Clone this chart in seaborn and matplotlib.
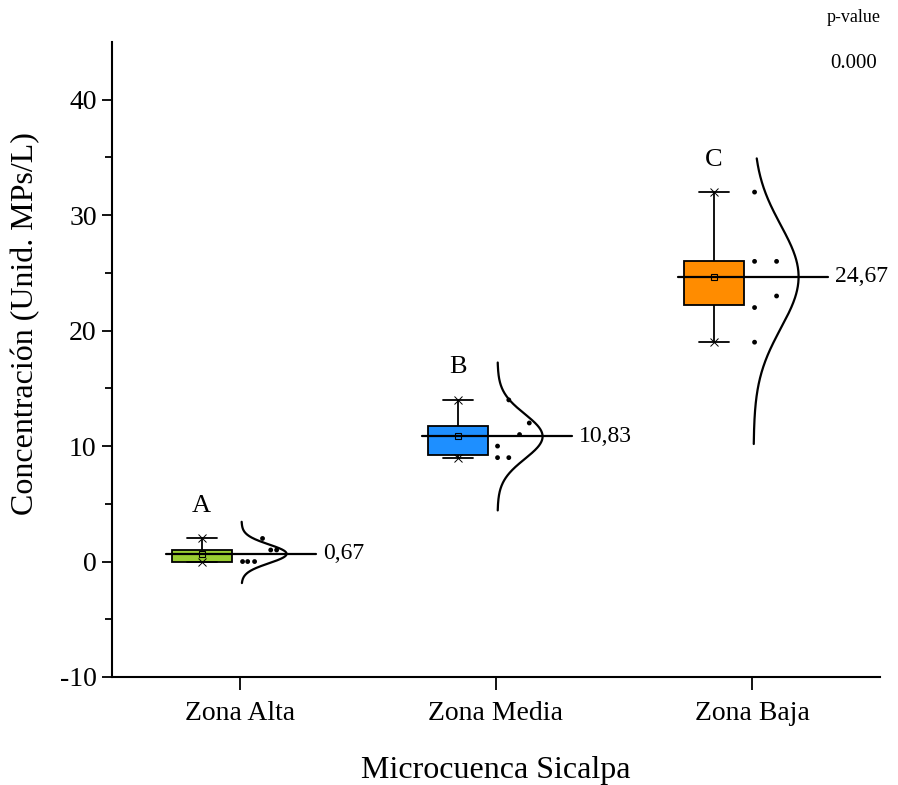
import numpy as np
import pandas as pd
import seaborn as sns
import matplotlib.pyplot as plt
from matplotlib.ticker import FixedLocator

# Concentración de microplásticos (Unid. MPs/L) por zona
zonas = ['Zona Alta', 'Zona Media', 'Zona Baja']
zona_alta = [0, 0, 0, 1, 1, 2]
zona_media = [14, 12, 11, 10, 9, 9]
zona_baja = [32, 26, 26, 23, 22, 19]
letras = ['A', 'B', 'C']
p_value = '0.000'
colores = ['#9acd32', '#1e8fff', '#ff8c00']

# desplazamiento de los puntos a la derecha de cada caja
jitter = [
    [0.16, 0.18, 0.207, 0.27, 0.293, 0.238],
    [0.2, 0.28, 0.242, 0.156, 0.156, 0.2],
    [0.16, 0.16, 0.246, 0.246, 0.16, 0.16],
]
# extension de la curva normal (desv. estandar abajo, arriba)
curva_sd = [(3.1, 3.4), (3.3, 3.3), (3.25, 2.3)]

valores = [zona_alta, zona_media, zona_baja]
desp = -0.15  # la caja queda a la izquierda del tick

df = pd.DataFrame({
    'zona': np.repeat(zonas, [len(v) for v in valores]),
    'conc': np.concatenate(valores).astype(float),
})
df['pos'] = df['zona'].map({z: i + desp for i, z in enumerate(zonas)})
df['xp'] = df['pos'] + np.concatenate(jitter)

sns.set_style('ticks')
plt.rcParams['font.family'] = ['Liberation Serif', 'DejaVu Serif']
plt.rcParams['axes.unicode_minus'] = False
for k in ['text.color', 'axes.labelcolor', 'xtick.color', 'ytick.color']:
    plt.rcParams[k] = 'black'

fig = plt.figure(figsize=(8.98, 7.85), dpi=100)
ax = fig.add_axes([112 / 898, 1 - 677 / 785, 768 / 898, 635 / 785])

sns.boxplot(data=df, x='pos', y='conc', hue='zona', palette=colores,
            native_scale=True, width=0.234, whis=(0, 100), dodge=False,
            saturation=1, linecolor='black', linewidth=1.3, legend=False,
            showfliers=False, medianprops={'visible': False}, ax=ax)

sns.scatterplot(data=df, x='xp', y='conc', color='black', s=12,
                edgecolor='none', legend=False, ax=ax, zorder=4)

for i, v in enumerate(valores):
    pos = i + desp
    m = np.mean(v)
    s = np.std(v, ddof=1)
    # curva normal
    lo, hi = curva_sd[i]
    yy = np.linspace(m - lo * s, m + hi * s, 300)
    xx = pos + 0.156 + 0.176 * np.exp(-0.5 * ((yy - m) / s) ** 2)
    ax.plot(xx, yy, color='black', lw=1.6, zorder=4)
    # linea de la media
    ax.plot([pos - 0.14, pos + 0.445], [m, m], color='black', lw=1.6, zorder=5)
    ax.text(pos + 0.475, m, f'{m:.2f}'.replace('.', ','), va='center',
            ha='left', fontsize=17)
    # media, minimo y maximo
    ax.plot(pos, m, marker='s', ms=5, mfc='none', mec='black', mew=0.8, zorder=6)
    ax.plot([pos, pos], [min(v), max(v)], ls='none', marker='x', ms=6,
            color='black', mew=0.7, zorder=6)
    ax.text(pos, max(v) + 2.3, letras[i], ha='center', va='baseline', fontsize=19)

ax.set_xlim(-0.5, 2.5)
ax.set_ylim(-10, 45)
ax.set_xticks([0, 1, 2])
ax.set_xticklabels(zonas)
ax.set_yticks(range(-10, 41, 10))
ax.yaxis.set_minor_locator(FixedLocator([-5, 5, 15, 25, 35]))
ax.tick_params(axis='both', which='major', labelsize=20, direction='out',
               width=1.3, color='black')
ax.tick_params(axis='y', which='major', length=7, pad=4)
ax.tick_params(axis='y', which='minor', length=5, width=1.3, color='black')
ax.tick_params(axis='x', which='major', length=9, pad=8)

ax.set_xlabel('Microcuenca Sicalpa', fontsize=23, labelpad=22)
ax.set_ylabel('Concentración (Unid. MPs/L)', fontsize=23)
ax.yaxis.set_label_coords(-0.094, 0.557)

sns.despine(ax=ax)
for sp in ['left', 'bottom']:
    ax.spines[sp].set_linewidth(1.5)
    ax.spines[sp].set_color('black')

fig.text(854 / 898, 1 - 18 / 785, 'p-value', ha='center', va='center', fontsize=13)
fig.text(854 / 898, 1 - 63 / 785, p_value, ha='center', va='center', fontsize=15)

fig.savefig('out.png', dpi=100)
